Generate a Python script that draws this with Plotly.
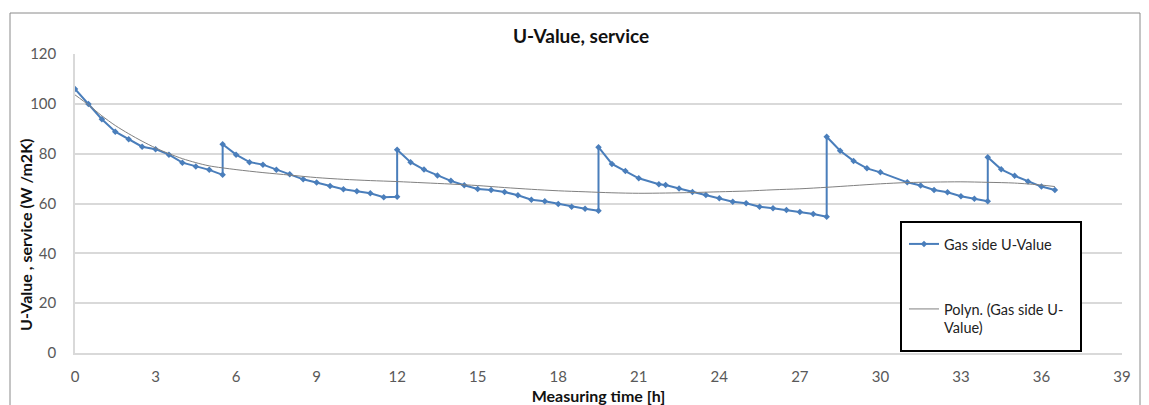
import plotly.graph_objects as go

# ---- data ----
time_h = [0, 0.5, 1, 1.5, 2, 2.5, 3, 3.5, 4, 4.5, 5, 5.5,
          5.5, 6, 6.5, 7, 7.5, 8, 8.5, 9, 9.5, 10, 10.5, 11, 11.5, 12,
          12, 12.5, 13, 13.5, 14, 14.5, 15, 15.5, 16, 16.5, 17, 17.5, 18, 18.5, 19, 19.5,
          19.5, 20, 20.5, 21, 21.75, 22, 22.5, 23, 23.5, 24, 24.5, 25, 25.5, 26, 26.5, 27, 27.5, 28,
          28, 28.5, 29, 29.5, 30, 31, 31.5, 32, 32.5, 33, 33.5, 34,
          34, 34.5, 35, 35.5, 36, 36.5]
u_value = [106.0, 99.9, 93.8, 88.8, 85.8, 82.8, 81.8, 79.6, 76.4, 74.8, 73.5, 71.5,
           83.8, 79.6, 76.6, 75.6, 73.5, 71.7, 69.7, 68.4, 67.0, 65.7, 64.9, 64.1, 62.5, 62.7,
           81.6, 76.6, 73.6, 71.2, 69.1, 67.3, 65.8, 65.4, 64.6, 63.3, 61.5, 60.9, 59.8, 58.7, 57.9, 57.1,
           82.6, 75.9, 73.0, 70.1, 67.7, 67.4, 66.0, 64.6, 63.4, 62.1, 60.7, 60.1, 58.7, 58.1, 57.4, 56.6, 55.8, 54.7,
           86.8, 81.2, 77.1, 74.1, 72.5, 68.5, 67.2, 65.4, 64.5, 62.9, 61.9, 60.9,
           78.6, 73.7, 71.1, 68.8, 66.8, 65.4]

trend_time = [0, 0.5, 1, 1.5, 2, 2.5, 3, 3.5, 4, 4.5, 5, 6, 7, 8, 9, 10, 11, 12, 13, 14, 15, 16,
              17, 18, 19, 20, 21, 22, 23, 24, 25, 26, 27, 28, 29, 30, 31, 32, 33, 34, 35, 36, 36.5]
trend_value = [103.6, 99.6, 95.2, 91.3, 88.0, 85.0, 82.3, 80.0, 78.0, 76.4, 75.1, 73.6, 72.4, 71.4,
               70.4, 69.7, 69.2, 68.8, 68.3, 67.8, 67.2, 66.4, 65.7, 65.1, 64.7, 64.3, 64.1, 64.2,
               64.4, 64.7, 65.0, 65.5, 65.9, 66.5, 67.2, 67.9, 68.4, 68.6, 68.7, 68.5, 68.2, 67.4, 66.8]

x_ticks = [0, 3, 6, 9, 12, 15, 18, 21, 24, 27, 30, 33, 36, 39]
y_ticks = [0, 20, 40, 60, 80, 100, 120]

series_name = "Gas side U-Value"
trend_name = "Polyn. (Gas side U-<br>Value)"
title_text = "U-Value, service"
x_title = "Measuring time [h]"
y_title = "U-Value , service (W /m2K)"

FONT = "Lato"
OFF = 8                      # page body margin in the browser
W, H = 1149 - OFF, 405 - OFF
ML, MR, MT, MB = 75 - OFF, 27, 54 - OFF, 52
PW, PH = W - ML - MR, H - MT - MB


def px_x(x):
    """screen pixel -> paper x"""
    return (x - OFF - ML) / PW


def px_y(y):
    """screen pixel -> paper y"""
    return (H - MB - (y - OFF)) / PH


fig = go.Figure()
fig.add_trace(go.Scatter(
    x=time_h, y=u_value, mode="lines+markers", name=series_name,
    line=dict(color="#4a7ebb", width=2),
    marker=dict(symbol="diamond", size=5, color="#4a7ebb"),
    legend="legend",
))
fig.add_trace(go.Scatter(
    x=trend_time, y=trend_value, mode="lines", name=trend_name,
    line=dict(color="#808080", width=1, shape="spline", smoothing=0.8),
    legend="legend2",
))

# outer chart border
fig.add_shape(type="rect", xref="paper", yref="paper",
              x0=px_x(10), x1=px_x(1140), y0=px_y(430), y1=px_y(13),
              line=dict(color="#8a8a8a", width=1), fillcolor="rgba(0,0,0,0)", layer="below")
# legend box
fig.add_shape(type="rect", xref="paper", yref="paper",
              x0=px_x(901), x1=px_x(1081), y0=px_y(351), y1=px_y(222),
              line=dict(color="#000000", width=2), fillcolor="white", layer="above")

# y-axis title placed precisely
fig.add_annotation(text="<b>" + y_title + "</b>", xref="paper", yref="paper",
                   x=px_x(25), y=px_y(235), xanchor="center", yanchor="middle",
                   textangle=-90, showarrow=False,
                   font=dict(family=FONT, size=16, color="#111111"))

legend_common = dict(bgcolor="rgba(0,0,0,0)", borderwidth=0, xanchor="left", yanchor="top",
                     font=dict(family=FONT, size=14.5, color="#222222"), valign="top")

fig.update_layout(
    width=W, height=H,
    margin=dict(l=ML, r=MR, t=MT, b=MB, autoexpand=False),
    paper_bgcolor="white", plot_bgcolor="white",
    font=dict(family=FONT, color="#595959"),
    title=dict(text="<b>" + title_text + "</b>", x=(581 - OFF) / W, xanchor="center",
               y=1 - (36 - OFF) / H, yanchor="middle", xref="container", yref="container",
               font=dict(family=FONT, size=19, color="#111111")),
    legend=dict(x=px_x(904), y=px_y(228), **legend_common),
    legend2=dict(x=px_x(904), y=px_y(293), **legend_common),
    showlegend=True,
    xaxis=dict(range=[0, 39], tickvals=x_ticks, ticktext=[str(v) for v in x_ticks],
               showgrid=False, zeroline=False, showline=True, linecolor="#d9d9d9", linewidth=1.5,
               ticks="", ticklabelstandoff=9, tickfont=dict(family=FONT, size=15, color="#595959"),
               title=dict(text="<b>" + x_title + "</b>", standoff=12,
                          font=dict(family=FONT, size=16, color="#111111")),
               automargin=False, fixedrange=True),
    yaxis=dict(range=[0, 120], tickvals=y_ticks, ticktext=[str(v) for v in y_ticks],
               showgrid=True, gridcolor="#d9d9d9", gridwidth=1.5, zeroline=False,
               showline=True, linecolor="#d9d9d9", linewidth=1.5,
               ticks="", ticklabelstandoff=14, tickfont=dict(family=FONT, size=15, color="#595959"),
               automargin=False, fixedrange=True),
)

fig.write_html("out.html")
